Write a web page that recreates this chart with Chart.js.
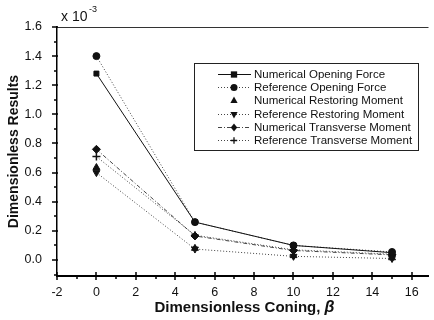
<!DOCTYPE html>
<html>
<head>
<meta charset="utf-8">
<script src="https://cdn.jsdelivr.net/npm/chart.js@4/dist/chart.umd.min.js"></script>
<style>
html,body{margin:0;padding:0;background:#fff;}
#wrap{width:434px;height:320px;position:relative;}
</style>
</head>
<body>
<div id="wrap"><canvas id="c" width="434" height="320"></canvas></div>
<script>
// Data (values in units of 1e-3)
const coning = [0, 5, 10, 15];
const numOpeningForce = [1.28, 0.26, 0.10, 0.05];
const refOpeningForce = [1.40, 0.26, 0.10, 0.055];
const numRestoringMoment = [0.635, 0.08, 0.03, 0.015];
const refRestoringMoment = [0.60, 0.075, 0.025, 0.01];
const numTransverseMoment = [0.76, 0.165, 0.065, 0.035];
const refTransverseMoment = [0.71, 0.17, 0.07, 0.04];
const seriesNames = ['Numerical Opening Force','Reference Opening Force','Numerical Restoring Moment','Reference Restoring Moment','Numerical Transverse Moment','Reference Transverse Moment'];
const xTickValues = [-2, 0, 2, 4, 6, 8, 10, 12, 14, 16];
const yTickValues = [0.0, 0.2, 0.4, 0.6, 0.8, 1.0, 1.2, 1.4, 1.6];
const xMinorTicks = [-1, 1, 3, 5, 7, 9, 11, 13, 15];
const yMinorTicks = [-0.1, 0.1, 0.3, 0.5, 0.7, 0.9, 1.1, 1.3, 1.5];

const pts = arr => arr.map((v, i) => ({x: coning[i], y: v}));
const INK = '#111';
const SANS = '"Liberation Sans", Arial, sans-serif';

const styles = [
  {pointStyle:'rect', radius:3.5, dash:[], showLine:true, rotation:0},
  {pointStyle:'circle', radius:3.5, dash:[1,2], showLine:true, rotation:0},
  {pointStyle:'triangle', radius:4, dash:[], showLine:false, rotation:0},
  {pointStyle:'triangle', radius:4, dash:[1,2], showLine:true, rotation:180},
  {pointStyle:'rectRot', radius:4, dash:[4,2,1,2], showLine:true, rotation:0},
  {pointStyle:'cross', radius:4, dash:[1,2], showLine:true, rotation:0}
];
const seriesData = [numOpeningForce, refOpeningForce, numRestoringMoment, refRestoringMoment, numTransverseMoment, refTransverseMoment];

const datasets = seriesData.map((d, i) => ({
  label: seriesNames[i],
  data: pts(d),
  showLine: styles[i].showLine,
  borderColor: i === 0 ? '#111' : '#444',
  borderWidth: 1,
  borderDash: styles[i].dash,
  pointStyle: styles[i].pointStyle,
  pointRotation: styles[i].rotation,
  pointRadius: styles[i].radius,
  pointBackgroundColor: INK,
  pointBorderColor: INK,
  pointBorderWidth: styles[i].pointStyle === 'cross' ? 1.5 : 1,
  tension: 0,
  fill: false
}));

function drawMarker(ctx, style, x, y, r, rot) {
  ctx.save();
  ctx.fillStyle = INK; ctx.strokeStyle = INK; ctx.lineWidth = 1;
  ctx.setLineDash([]);
  ctx.translate(x, y);
  ctx.rotate(rot * Math.PI / 180);
  ctx.beginPath();
  if (style === 'rect') { ctx.rect(-r*0.9, -r*0.9, r*1.8, r*1.8); ctx.fill(); }
  else if (style === 'circle') { ctx.arc(0, 0, r, 0, Math.PI*2); ctx.fill(); }
  else if (style === 'triangle') { ctx.moveTo(0, -r); ctx.lineTo(r*0.9, r*0.6); ctx.lineTo(-r*0.9, r*0.6); ctx.closePath(); ctx.fill(); }
  else if (style === 'rectRot') { ctx.moveTo(0,-r); ctx.lineTo(r*0.8,0); ctx.lineTo(0,r); ctx.lineTo(-r*0.8,0); ctx.closePath(); ctx.fill(); }
  else if (style === 'cross') { ctx.lineWidth = 1.3; ctx.moveTo(-r*0.8,0); ctx.lineTo(r*0.8,0); ctx.moveTo(0,-r*0.8); ctx.lineTo(0,r*0.8); ctx.stroke(); }
  ctx.restore();
}

const decor = {
  id: 'decor',
  afterDraw(chart) {
    const ctx = chart.ctx;
    const xs = chart.scales.x, ys = chart.scales.y, ca = chart.chartArea;
    ctx.save();
    ctx.setLineDash([]);
    // top frame line
    ctx.strokeStyle = '#333'; ctx.lineWidth = 1;
    ctx.beginPath(); ctx.moveTo(ca.left, Math.round(ca.top) + 0.5); ctx.lineTo(ca.right, Math.round(ca.top) + 0.5); ctx.stroke();
    // ticks
    ctx.strokeStyle = '#000'; ctx.lineWidth = 1.5;
    ctx.beginPath();
    xTickValues.forEach(v => { const px = Math.round(xs.getPixelForValue(v)); ctx.moveTo(px, ca.bottom - 4); ctx.lineTo(px, ca.bottom + 4); });
    xMinorTicks.forEach(v => { const px = Math.round(xs.getPixelForValue(v)); ctx.moveTo(px, ca.bottom); ctx.lineTo(px, ca.bottom + 3); });
    yTickValues.forEach(v => { const py = Math.round(ys.getPixelForValue(v)); ctx.moveTo(ca.left - 5, py); ctx.lineTo(ca.left + 1, py); });
    yMinorTicks.forEach(v => { const py = Math.round(ys.getPixelForValue(v)); ctx.moveTo(ca.left - 3, py); ctx.lineTo(ca.left, py); });
    ctx.stroke();

    // x 10^-3
    ctx.fillStyle = INK;
    ctx.textBaseline = 'alphabetic'; ctx.textAlign = 'left';
    ctx.font = '14px ' + SANS;
    ctx.fillText('x 10', 61, 21);
    ctx.font = '9px ' + SANS;
    ctx.fillText('-3', 89, 12);

    // x axis title with italic beta
    ctx.font = 'bold 15px ' + SANS;
    const t1 = 'Dimensionless Coning, ';
    const w1 = ctx.measureText(t1).width;
    ctx.font = 'bold italic 16px ' + SANS;
    const w2 = ctx.measureText('β').width;
    const cx = (ca.left + 434) / 2 - 1;
    let sx = cx - (w1 + w2) / 2;
    ctx.font = 'bold 15px ' + SANS;
    ctx.fillText(t1, sx, 312);
    ctx.font = 'bold italic 16px ' + SANS;
    ctx.fillText('β', sx + w1, 312);

    // R_i = 0.8
    ctx.font = 'bold italic 15px "Liberation Serif", "Times New Roman", serif';
    ctx.fillText('R', 352, 77);
    ctx.font = 'bold italic 9px "Liberation Serif", "Times New Roman", serif';
    ctx.fillText('i', 363, 81);
    ctx.font = 'bold italic 15px "Liberation Serif", "Times New Roman", serif';
    ctx.fillText('= 0.8', 369, 77);

    // legend
    const bx = 194, by = 63, bw = 224, bh = 87;
    ctx.fillStyle = '#fff';
    ctx.fillRect(bx, by, bw, bh);
    ctx.strokeStyle = '#222'; ctx.lineWidth = 1;
    ctx.strokeRect(bx + 0.5, by + 0.5, bw, bh);
    const rowY0 = 74, rowDy = 13.2;
    ctx.font = '11.5px ' + SANS;
    ctx.textBaseline = 'middle';
    seriesNames.forEach((name, i) => {
      const y = Math.round(rowY0 + i * rowDy) + 0.5;
      if (styles[i].showLine) {
        ctx.save();
        ctx.strokeStyle = i === 0 ? '#111' : '#444'; ctx.lineWidth = 1;
        ctx.setLineDash(styles[i].dash);
        ctx.beginPath(); ctx.moveTo(218, y); ctx.lineTo(251, y); ctx.stroke();
        ctx.restore();
      }
      drawMarker(ctx, styles[i].pointStyle, 234, y, styles[i].radius, styles[i].rotation);
      ctx.fillStyle = INK;
      ctx.fillText(name, 254, y + 0.5);
    });
    ctx.restore();
  }
};

new Chart(document.getElementById('c'), {
  type: 'scatter',
  data: { datasets },
  options: {
    responsive: false,
    animation: false,
    devicePixelRatio: 1,
    layout: { padding: { top: 27, right: 0, left: 0, bottom: 0 } },
    plugins: { legend: { display: false }, tooltip: { enabled: false } },
    scales: {
      x: {
        type: 'linear', min: -2, max: 16.85,
        afterBuildTicks: s => { s.ticks = xTickValues.map(v => ({value: v})); },
        afterFit: s => { s.height = 44; },
        grid: { display: false },
        border: { display: true, color: '#000', width: 2 },
        ticks: { color: INK, padding: 1, font: { family: SANS, size: 12.5 }, callback: v => String(v), maxRotation: 0, autoSkip: false },
        title: { display: false }
      },
      y: {
        type: 'linear', min: -0.11, max: 1.6,
        afterBuildTicks: s => { s.ticks = yTickValues.map(v => ({value: v})); },
        afterFit: s => { s.width = 57; },
        grid: { display: false },
        border: { display: true, color: '#000', width: 1.5 },
        ticks: { color: INK, padding: 7, font: { family: SANS, size: 12.5 }, callback: v => Number(v).toFixed(1), autoSkip: false },
        title: { display: true, text: 'Dimensionless Results', color: INK, font: { family: SANS, size: 14, weight: 'bold' }, padding: { top: 6, bottom: 0 } }
      }
    }
  },
  plugins: [decor]
});
</script>
</body>
</html>
